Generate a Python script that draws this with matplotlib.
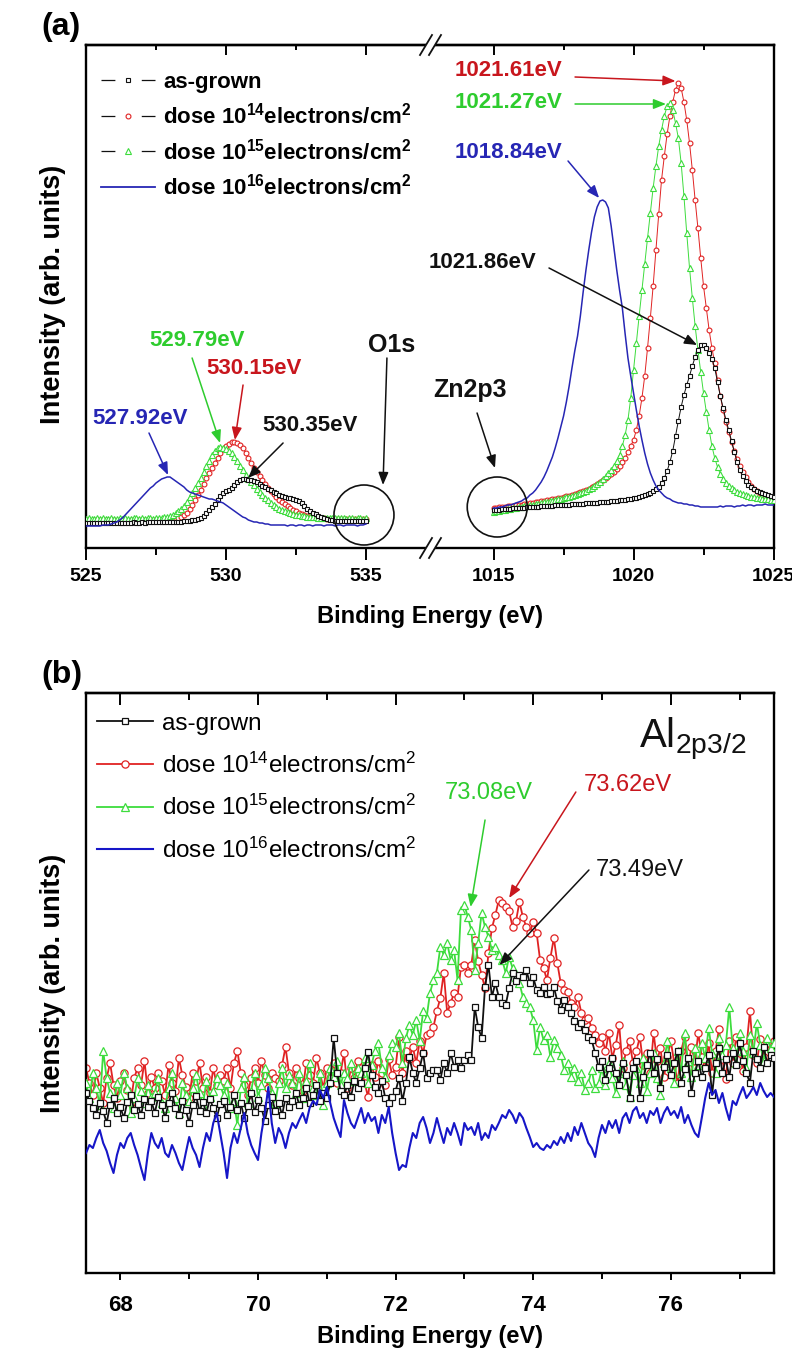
import numpy as np
import matplotlib
matplotlib.use("Agg")
import matplotlib.pyplot as plt
from matplotlib.lines import Line2D
from matplotlib.patches import Ellipse, Polygon

plt.rcParams['font.family'] = ['Liberation Sans', 'DejaVu Sans']
plt.rcParams['mathtext.default'] = 'regular'
plt.rcParams['lines.scale_dashes'] = False

# ---------------- data : panel (a) O1s / Zn2p3 (arb. units) ----------------
o1s_energy = np.round(np.linspace(525.0, 535.0, 101), 2)
zn_energy = np.round(np.linspace(1015.0, 1025.0, 101), 2)

o1s_asgrown = [25,25,25,25,25,25,25,25,25,25,
               25,25,25,25,25,25,25,26,25,25,
               26,25,26,26,26,26,26,26,26,26,
               26,26,26,26,26,27,27,27,28,28,
               29,30,32,35,38,41,44,48,52,55,
               57,58,60,63,66,68,69,69,68,68,
               67,66,64,62,61,59,58,56,55,53,
               52,51,50,50,49,48,47,45,42,39,
               37,35,34,32,31,30,29,28,28,27,
               27,27,27,27,27,27,27,27,27,27,
               27]
o1s_d14 = [28,28,27,28,28,28,27,28,28,28,
           28,27,28,28,28,27,28,28,28,28,
           28,28,28,28,28,28,28,28,28,28,
           28,28,29,30,31,33,35,39,43,48,
           53,58,64,70,75,80,85,90,95,99,
           102,104,106,106,105,103,100,95,90,85,
           80,76,72,68,64,60,57,54,51,48,
           46,44,42,40,38,37,35,34,33,32,
           31,31,30,30,30,30,29,29,29,29,
           29,29,29,29,29,29,29,29,29,29,
           29]
o1s_d15 = [29,30,29,29,30,29,30,29,29,30,
           29,29,30,29,30,29,29,30,30,29,
           30,29,30,30,29,30,30,30,31,31,
           32,33,35,37,39,42,46,51,55,60,
           65,70,76,82,87,93,97,100,101,100,
           99,97,95,91,87,82,78,73,69,66,
           63,59,56,53,50,48,45,43,41,39,
           38,37,36,35,34,33,33,32,32,31,
           31,31,31,30,30,30,30,30,30,30,
           30,30,30,29,30,30,29,30,30,29,
           30]
o1s_d16 = [22,22,22,22,22,22,23,23,23,24,
           25,26,28,30,33,36,39,42,45,48,
           51,54,57,60,62,65,67,69,70,71,
           71,69,67,65,63,61,58,56,55,54,
           53,52,51,50,49,49,48,47,46,45,
           43,41,39,37,35,33,31,30,28,27,
           26,26,25,25,24,24,23,23,23,23,
           23,23,22,23,23,22,23,23,22,23,
           23,22,23,23,23,22,23,23,23,22,
           23,23,22,23,23,23,23,22,23,23,
           24]

zn_asgrown = [38,38,38,39,39,39,39,40,40,40,
              40,40,41,41,41,41,41,42,42,42,
              42,42,43,43,43,43,43,43,44,44,
              44,44,44,45,45,45,45,45,46,46,
              46,46,47,47,47,48,48,48,49,49,
              50,50,51,52,53,54,55,57,59,61,
              65,70,77,86,97,112,127,141,153,163,
              172,182,191,198,203,203,200,195,189,180,
              166,152,140,128,118,107,96,86,78,72,
              67,63,61,59,57,56,55,54,53,52,
              51]
zn_d14 = [40,40,41,41,41,42,42,42,43,43,
          43,44,44,45,45,46,46,47,47,48,
          48,49,49,50,50,51,52,52,53,54,
          55,56,57,58,59,61,62,64,66,68,
          70,72,74,76,79,82,86,90,96,102,
          108,118,132,150,172,200,230,262,298,334,
          368,392,414,432,446,458,465,460,446,428,
          405,378,348,320,290,262,240,218,200,185,
          168,152,138,126,116,106,97,89,82,76,
          71,66,62,59,57,55,53,52,51,50,
          49]
zn_d15 = [36,37,37,38,38,39,39,40,40,41,
          41,42,42,43,43,44,44,45,46,46,
          47,47,48,49,49,50,51,51,52,53,
          54,55,56,57,59,60,62,64,66,69,
          72,75,78,82,87,93,102,113,128,150,
          178,205,232,258,284,310,335,360,382,402,
          418,432,442,445,438,425,410,385,352,315,
          280,250,222,198,176,155,136,118,102,90,
          81,74,69,65,62,60,58,56,55,54,
          53,52,51,51,50,50,49,49,49,48,
          48]
zn_d16 = [40,40,41,41,42,43,43,44,45,46,
          47,49,50,53,55,58,62,66,71,77,
          84,91,100,110,121,132,146,162,180,197,
          212,232,256,278,298,316,331,341,347,348,
          346,340,322,300,278,258,240,214,190,172,
          155,138,122,108,95,84,75,68,62,58,
          55,52,50,49,47,46,45,45,44,44,
          43,43,42,42,41,41,41,41,41,41,
          41,42,41,42,42,42,41,42,42,43,
          42,43,43,42,43,43,43,44,43,43,
          43]

# ---------------- data : panel (b) Al 2p3/2 (arb. units) ----------------
al_energy = np.round(np.linspace(67.5, 77.5, 201), 3)

al_asgrown = [180,172,165,158,170,162,150,168,175,160,166,155,171,178,163,169,158,174,166,172,
              160,176,168,155,170,180,165,158,172,163,150,168,177,162,171,160,174,165,155,169,
              172,158,166,178,163,170,155,167,180,161,173,165,152,168,176,162,170,158,175,166,
              172,180,168,175,185,170,178,188,172,180,175,190,235,200,182,178,188,176,192,185,
              190,205,221,198,186,180,192,175,170,176,182,195,172,190,216,200,190,205,220,195,
              200,203,203,193,210,200,220,206,213,205,213,218,213,266,246,235,286,308,276,290,
              276,270,268,285,300,292,298,296,303,290,296,283,280,286,279,280,286,272,263,273,
              266,260,252,246,250,243,236,233,220,206,212,193,205,215,200,188,210,198,175,205,
              212,175,196,208,220,200,214,185,206,218,198,210,222,190,204,215,180,200,212,196,
              205,218,178,210,225,200,214,196,220,208,230,212,200,190,222,214,205,226,210,218,
              215]
al_d14 = [205,190,178,200,185,170,195,210,188,175,192,200,183,170,195,205,188,212,180,196,
          185,200,192,178,208,190,182,215,198,186,175,200,192,210,185,196,180,205,188,198,
          192,205,185,210,222,200,188,178,195,205,190,212,198,185,200,195,192,208,226,200,
          188,205,195,182,210,198,190,215,200,185,205,195,210,190,200,220,185,205,195,212,
          205,190,176,208,196,212,200,188,214,198,206,236,200,222,214,226,210,232,220,238,
          240,246,262,275,300,260,270,280,276,306,308,300,308,333,312,298,285,320,345,358,
          373,370,366,362,346,352,371,356,346,340,351,340,313,305,293,315,335,310,290,283,
          281,270,266,276,260,253,255,245,238,230,236,222,240,215,228,248,205,222,232,210,
          222,236,208,220,200,240,212,225,196,216,232,210,190,222,236,205,226,212,240,216,
          206,230,200,222,244,214,194,232,210,236,220,202,226,262,218,210,234,216,230,222,
          232]
al_d15 = [190,175,200,185,168,222,195,180,165,190,178,200,185,160,175,195,182,170,188,176,
          180,195,170,165,185,200,175,160,190,178,172,185,198,180,168,192,176,182,195,188,
          178,190,165,172,148,185,196,170,182,200,176,188,205,195,180,170,190,205,185,198,
          190,180,200,175,192,210,185,178,200,168,190,205,196,212,188,200,195,210,192,205,
          200,215,190,208,222,230,205,196,218,230,226,240,210,235,248,238,253,232,262,255,
          280,293,300,326,318,330,313,323,293,363,368,356,343,303,330,360,346,336,323,326,
          318,313,300,316,305,296,290,276,270,266,253,223,246,233,238,216,233,225,218,203,
          210,196,205,192,200,183,190,203,185,190,205,188,210,195,180,200,212,188,176,198,
          205,190,215,182,200,220,195,178,210,232,205,190,222,200,240,212,196,225,208,230,
          215,245,220,200,235,218,228,266,225,210,240,222,205,238,220,250,228,212,235,225,
          230]
al_d16 = [120,128,125,135,143,130,122,110,100,118,130,125,135,140,128,118,105,93,120,140,
          130,125,135,120,116,128,120,110,103,120,136,125,118,106,125,140,132,150,160,140,
          120,95,125,140,130,145,160,140,128,120,113,140,160,186,150,130,145,138,125,140,
          150,145,153,160,150,165,172,168,183,175,186,170,155,145,136,173,160,150,145,155,
          165,150,160,152,156,140,158,150,166,140,120,103,108,106,125,140,135,150,156,145,
          130,140,155,142,130,145,138,150,140,128,150,143,146,138,150,133,140,135,148,143,
          150,158,155,163,158,150,160,155,145,136,126,130,125,123,128,125,132,128,136,130,
          140,132,146,138,150,140,130,125,116,135,148,140,152,145,153,140,155,160,150,162,
          166,155,160,150,162,158,165,150,160,166,158,162,155,166,150,158,148,140,136,155,
          175,190,178,183,170,180,165,153,172,168,178,186,175,180,186,178,190,182,176,180,
          176]

labels = ["as-grown",
          "dose 10$^{14}$electrons/cm$^{2}$",
          "dose 10$^{15}$electrons/cm$^{2}$",
          "dose 10$^{16}$electrons/cm$^{2}$"]

# ---------------- styles ----------------
BLK = '#111111'
RED = '#e02222'
RED_T = '#c8161d'
GRN = '#3ddc3d'
GRN_T = '#2ecc2e'
BLU_A = '#2626b4'
BLU_B = '#1616c8'
SPW = 1.7

W, H = 792, 1355
def fx(px):
    return px / W
def fy(py):
    return 1 - py / H

fig = plt.figure(figsize=(W / 100, H / 100), dpi=100)

# ================= panel (a) =================
a_top, a_bot, brk = 45, 548, 432
ax_l = fig.add_axes([fx(86), fy(a_bot), fx(brk) - fx(86), (a_bot - a_top) / H])
ax_r = fig.add_axes([fx(brk), fy(a_bot), fx(773.5) - fx(brk), (a_bot - a_top) / H], sharey=ax_l)
ax_l.set_xlim(525, 537.36)
ax_r.set_xlim(1012.8, 1025)
ax_l.set_ylim(0, 503)

sty_a = {
    'k': dict(color=BLK, marker='s', ms=3.4, mfc='white', mew=0.8, lw=0.7, zorder=4),
    'r': dict(color=RED, marker='o', ms=3.5, mfc='white', mew=0.8, lw=0.7, zorder=2),
    'g': dict(color=GRN, marker='^', ms=4.0, mfc='white', mew=0.8, lw=0.7, zorder=3),
    'b': dict(color=BLU_A, lw=1.1, zorder=5),
}
for ax, xs, series in [(ax_l, o1s_energy, (o1s_asgrown, o1s_d14, o1s_d15, o1s_d16)),
                       (ax_r, zn_energy, (zn_asgrown, zn_d14, zn_d15, zn_d16))]:
    for key, ys in zip('krgb', series):
        ax.plot(xs, ys, **sty_a[key])

for ax, maj, mnr in [(ax_l, [525, 530, 535], [527.5, 532.5]),
                     (ax_r, [1015, 1020, 1025], [1017.5, 1022.5])]:
    ax.set_xticks(maj)
    ax.set_xticks(mnr, minor=True)
    ax.tick_params(axis='x', which='major', direction='out', length=8.6, width=1.4,
                   labelsize=14, pad=6)
    ax.tick_params(axis='x', which='minor', direction='out', length=5, width=1.4)
    for lab in ax.get_xticklabels():
        lab.set_fontweight('bold')
    ax.tick_params(axis='y', left=False, right=False, labelleft=False)
    sec = ax.secondary_xaxis('top')
    sec.set_xticks(maj)
    sec.set_xticks(mnr, minor=True)
    sec.tick_params(axis='x', which='major', direction='in', length=7.2, width=1.4, labeltop=False)
    sec.tick_params(axis='x', which='minor', direction='in', length=3.6, width=1.4)
    sec.spines['top'].set_linewidth(SPW)
    for s in ax.spines.values():
        s.set_linewidth(SPW)
ax_l.spines['right'].set_visible(False)
ax_r.spines['left'].set_visible(False)
ax_l.set_yticks([])

# axis break marks
for py in (a_top, a_bot):
    c1, c2 = 426, 435
    gap = Polygon([(fx(c1 - 1), fy(py + 3)), (fx(c2 - 1), fy(py + 3)),
                   (fx(c2 + 1), fy(py - 3)), (fx(c1 + 1), fy(py - 3))],
                  closed=True, transform=fig.transFigure, facecolor='white',
                  edgecolor='none', zorder=20)
    fig.add_artist(gap)
    for c in (c1, c2):
        fig.add_artist(Line2D([fx(c - 6), fx(c + 6)], [fy(py + 10), fy(py - 10)],
                              transform=fig.transFigure, color=BLK, lw=1.3, zorder=21))

# legend (a)
hd_a = [Line2D([], [], color=BLK, marker='s', ms=3.4, mfc='white', mew=0.8, lw=0.9, dashes=(10, 19)),
        Line2D([], [], color=BLK, marker='o', ms=3.5, mfc='white', mew=0.8, lw=0.9, dashes=(10, 19),
               mec=RED),
        Line2D([], [], color=BLK, marker='^', ms=4.2, mfc='white', mew=0.8, lw=0.9, dashes=(10, 19),
               mec=GRN),
        Line2D([], [], color=BLU_A, lw=1.3)]
ax_l.legend(hd_a, labels, loc='upper left', bbox_to_anchor=((101 - 86) / 346, 0.946),
            frameon=False, prop={'weight': 'bold', 'size': 16}, handlelength=2.43,
            handletextpad=0.36, labelspacing=0.43, borderpad=0, borderaxespad=0)

# annotations
def note(ax, txt, pos, start, tip, color, size=16, weight='bold'):
    ax.text(pos[0], pos[1], txt, color=color, fontsize=size, fontweight=weight,
            ha='center', va='center', zorder=10)
    ax.annotate('', xy=tip, xytext=start, zorder=10,
                arrowprops=dict(arrowstyle='-|>,head_length=0.5,head_width=0.2',
                                mutation_scale=15, color=color, lw=1.1,
                                shrinkA=0, shrinkB=0))

note(ax_r, '1021.61eV', (1015.52, 478), (1017.91, 471), (1021.5, 467), RED_T)
note(ax_r, '1021.27eV', (1015.52, 445), (1017.91, 444), (1021.16, 444), GRN_T)
note(ax_r, '1018.84eV', (1015.52, 395), (1017.66, 387), (1018.77, 350), BLU_A)
note(ax_r, '1021.86eV', (1014.59, 285), (1016.98, 280), (1022.27, 203), BLK)
note(ax_l, '529.79eV', (528.96, 208), (528.79, 190), (529.79, 105), GRN_T)
note(ax_l, '530.15eV', (531.0, 180), (530.61, 163), (530.32, 108), RED_T)
note(ax_l, '527.92eV', (526.93, 130), (527.25, 115), (527.93, 73), BLU_A)
note(ax_l, '530.35eV', (533.0, 123), (532.04, 105), (530.79, 70), BLK)
note(ax_l, 'O1s', (535.93, 203), (535.75, 190), (535.61, 63), BLK, size=18)
note(ax_r, 'Zn2p3', (1014.16, 158), (1014.41, 135), (1015.05, 80), BLK, size=18)
ax_l.add_patch(Ellipse((534.93, 33), 60 / 28, 60, fill=False, ec=BLK, lw=1.2,
                       clip_on=False, zorder=9))
ax_r.add_patch(Ellipse((1015.13, 41), 60 / 28, 60, fill=False, ec=BLK, lw=1.2,
                       clip_on=False, zorder=9))

fig.text(fx(430), fy(616), 'Binding Energy (eV)', ha='center', va='center',
         fontsize=17, fontweight='bold')
fig.text(fx(53), fy(294), 'Intensity (arb. units)', ha='center', va='center',
         rotation=90, fontsize=19.5, fontweight='bold')
fig.text(fx(61), fy(27), '(a)', ha='center', va='center', fontsize=23, fontweight='bold')

# ================= panel (b) =================
b_top, b_bot = 693, 1273
axb = fig.add_axes([fx(86), fy(b_bot), fx(774) - fx(86), (b_bot - b_top) / H])
axb.set_xlim(67.5, 77.5)
axb.set_ylim(0, 580)

sty_b = {
    'k': dict(color=BLK, marker='s', ms=4.8, mfc='white', mew=0.9, lw=1.3, zorder=4),
    'r': dict(color=RED, marker='o', ms=5.2, mfc='white', mew=0.9, lw=1.3, zorder=2),
    'g': dict(color=GRN, marker='^', ms=5.8, mfc='white', mew=0.9, lw=1.3, zorder=3),
    'b': dict(color=BLU_B, lw=1.5, zorder=5),
}
for key, ys in zip('krgb', (al_asgrown, al_d14, al_d15, al_d16)):
    axb.plot(al_energy, ys, **sty_b[key])

axb.set_xticks([68, 70, 72, 74, 76])
axb.set_xticks([69, 71, 73, 75, 77], minor=True)
axb.tick_params(axis='x', which='major', direction='out', length=5, width=1.4,
                labelsize=16, pad=11)
axb.tick_params(axis='x', which='minor', direction='out', length=4, width=1.4)
for lab in axb.get_xticklabels():
    lab.set_fontweight('bold')
axb.set_yticks([])
secb = axb.secondary_xaxis('top')
secb.set_xticks([68, 70, 72, 74, 76])
secb.set_xticks([69, 71, 73, 75, 77], minor=True)
secb.tick_params(axis='x', which='major', direction='in', length=8.6, width=1.4, labeltop=False)
secb.tick_params(axis='x', which='minor', direction='in', length=5, width=1.4)
secb.spines['top'].set_linewidth(SPW)
for s in axb.spines.values():
    s.set_linewidth(SPW)

hd_b = [Line2D([], [], **{k: v for k, v in sty_b[c].items() if k != 'zorder'}) for c in 'krgb']
axb.legend(hd_b, labels, loc='upper left', bbox_to_anchor=((97 - 86) / 688, 0.966),
           frameon=False, prop={'size': 17.5}, handlelength=2.3, handletextpad=0.37,
           labelspacing=0.72, borderpad=0, borderaxespad=0)

note(axb, '73.08eV', (73.35, 480), (73.30, 453), (73.09, 366), GRN_T, size=17, weight='normal')
note(axb, '73.62eV', (75.38, 488), (74.62, 481), (73.65, 375), RED_T, size=17, weight='normal')
note(axb, '73.49eV', (75.55, 403), (74.81, 403), (73.51, 308), BLK, size=17, weight='normal')
axb.text(75.54, 525, 'Al$_{2p3/2}$', fontsize=29, ha='left', va='baseline', color=BLK)

fig.text(fx(430), fy(1336), 'Binding Energy (eV)', ha='center', va='center',
         fontsize=17, fontweight='bold')
fig.text(fx(53), fy(983), 'Intensity (arb. units)', ha='center', va='center',
         rotation=90, fontsize=19.5, fontweight='bold')
fig.text(fx(62), fy(675), '(b)', ha='center', va='center', fontsize=23, fontweight='bold')

fig.savefig('out.png', dpi=100)
